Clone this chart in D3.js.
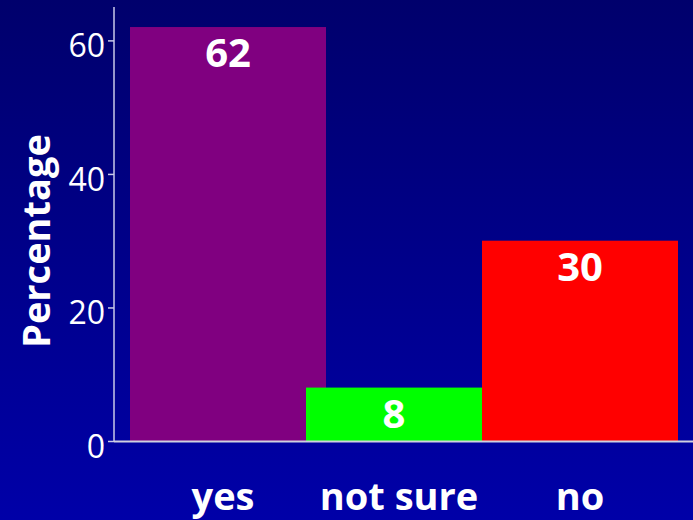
<!DOCTYPE html>
<html>
<head>
<meta charset="utf-8">
<script src="https://cdn.jsdelivr.net/npm/d3@7"></script>
<style>
  html, body { margin: 0; padding: 0; background: #000088; }
  svg { display: block; }
</style>
</head>
<body>
<svg id="chart" width="693" height="520"></svg>
<script>
const categories = ["yes", "not sure", "no"];
const values = [62, 8, 30];
const barColors = ["#800080", "#00ff00", "#ff0000"];
const yTicks = [0, 20, 40, 60];
const yLabel = "Percentage";

const W = 693, H = 520;
const svg = d3.select("#chart");

const defs = svg.append("defs");
const grad = defs.append("linearGradient").attr("id", "bg")
  .attr("x1", 0).attr("y1", 0).attr("x2", 0).attr("y2", 1);
grad.append("stop").attr("offset", "0%").attr("stop-color", "#00006c");
grad.append("stop").attr("offset", "100%").attr("stop-color", "#0000a8");
svg.append("rect").attr("width", W).attr("height", H).attr("fill", "url(#bg)");

const axisX = 114, baseY = 441, topY = 7;
const y = d3.scaleLinear().domain([0, 65]).range([baseY, topY]);
const x = d3.scalePoint().domain(categories).range([228, 580]);
const barW = 196;

const data = categories.map((c, i) => ({ c, v: values[i], color: barColors[i], i }));

// bars
svg.append("g").selectAll("rect").data(data).join("rect")
  .attr("x", d => x(d.c) - barW / 2)
  .attr("y", d => y(d.v))
  .attr("width", barW)
  .attr("height", d => y(0) - y(d.v))
  .attr("fill", d => d.color);

// visible centre of each bar at a given height
function visibleCenter(d, atY) {
  const left = x(d.c) - barW / 2;
  let right = x(d.c) + barW / 2;
  const next = data[d.i + 1];
  if (next && y(next.v) < atY) right = Math.min(right, x(next.c) - barW / 2);
  return (left + right) / 2;
}

const font = "'Open Sans', 'DejaVu Sans', sans-serif";

// value labels
svg.append("g").selectAll("text").data(data).join("text")
  .attr("x", d => visibleCenter(d, y(d.v) + 40))
  .attr("y", d => y(d.v) + 40)
  .attr("text-anchor", "middle")
  .attr("fill", "#ffffff")
  .attr("font-family", font)
  .attr("font-weight", "bold")
  .attr("font-size", 40)
  .text(d => d.v);

// category labels
svg.append("g").selectAll("text").data(data).join("text")
  .attr("x", d => (visibleCenter(d, baseY - 1) + x(d.c)) / 2)
  .attr("y", 510)
  .attr("text-anchor", "middle")
  .attr("fill", "#ffffff")
  .attr("font-family", font)
  .attr("font-weight", "bold")
  .attr("font-size", 38)
  .text(d => d.c);

// y axis
const yAxis = d3.axisLeft(y).tickValues(yTicks).tickSize(6).tickPadding(3).tickFormat(d3.format("d"));
const gy = svg.append("g").attr("transform", `translate(${axisX},0)`).call(yAxis);
gy.select(".domain").remove();
gy.selectAll(".tick line").attr("stroke", "#c8c8e8").attr("stroke-width", 1.5);
gy.selectAll(".tick text")
  .attr("fill", "#ffffff")
  .attr("font-family", font)
  .attr("font-size", 32)
  .attr("dy", "16.5px");
svg.append("line")
  .attr("x1", axisX).attr("x2", axisX)
  .attr("y1", topY).attr("y2", baseY)
  .attr("stroke", "#c8c8e8").attr("stroke-width", 1.5);

// x axis line
svg.append("line")
  .attr("x1", axisX).attr("x2", W)
  .attr("y1", baseY + 0.5).attr("y2", baseY + 0.5)
  .attr("stroke", "#d0d0e0").attr("stroke-width", 2);

// y label
svg.append("text")
  .attr("transform", `translate(50,241) rotate(-90)`)
  .attr("text-anchor", "middle")
  .attr("fill", "#ffffff")
  .attr("font-family", font)
  .attr("font-weight", "bold")
  .attr("font-size", 38)
  .text(yLabel);
</script>
</body>
</html>
